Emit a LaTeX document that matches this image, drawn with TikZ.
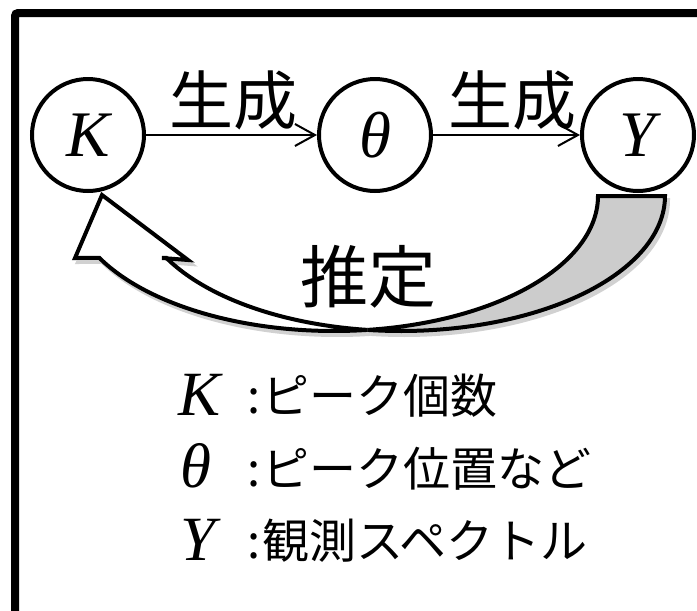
\documentclass[tikz,border=0pt]{standalone}
\usepackage{fontspec}
\setmainfont{Liberation Serif}
\newfontfamily\jp{Noto Sans CJK JP}
\usetikzlibrary{arrows.meta}
\tikzset{
  var/.style={circle,draw,line width=4pt,minimum size=112pt,inner sep=0pt,
    font=\fontsize{65}{65}\selectfont\itshape},
  gen/.style={draw,line width=2pt,-{Straight Barb[length=20pt,width=22pt,line width=2pt]}},
  genlabel/.style={font=\jp\fontsize{64}{64}\selectfont,inner sep=0pt},
  estlabel/.style={font=\jp\fontsize{68}{68}\selectfont,inner sep=0pt},
  legsym/.style={font=\fontsize{63}{63}\selectfont\itshape,inner sep=0pt,anchor=base west},
  legtxt/.style={font=\jp\fontsize{47}{47}\selectfont,inner sep=0pt,anchor=base west},
  shapeline/.style={draw=black,line width=4pt,line join=miter},
  shadowline/.style={draw=black!18,fill=black!18,line width=4pt},
  graypath/.style={insert path={(598,196) -- (665,196)
     -- plot[domain=0:97.3,samples=80] ({401+264*cos(\x)},{196+135*sin(\x)})
     -- plot[domain=82.7:0,samples=80] ({334+264*cos(\x)},{196+135*sin(\x)}) -- cycle}},
  whitepath/.style={insert path={plot[domain=82.7:152.7,samples=80] ({334+264*cos(\x)},{196+135*sin(\x)})
     -- (75,258) -- (102,195) -- (188,260) -- (162,258)
     -- plot[domain=152.7:97.3,samples=80] ({401+264*cos(\x)},{196+135*sin(\x)}) -- cycle}}
}
\begin{document}
\begin{tikzpicture}[x=1pt,y=-1pt]
\useasboundingbox (0,0) rectangle (697,611);
\clip (0,0) rectangle (697,611);
\fill[white] (0,0) rectangle (697,611);
\draw[line width=8pt,rounded corners=3pt] (15,13) rectangle (712,618);

% nodes
\node[var] (K) at (88,135) {K};
\node[var] (T) at (375,135) {θ};
\node[var] (Y) at (638,135) {Y};

\draw[gen] (K) -- (T);
\draw[gen] (T) -- (Y);
\node[genlabel] (g1) at (233,100) {生成};
\node[genlabel] (g2) at (512,100) {生成};

% curved estimation arrow: shadow
\begin{scope}[shift={(3,4)}]
  \path[shadowline,graypath];
  \path[shadowline,whitepath];
\end{scope}
\path[shapeline,fill=black!20,graypath];
\path[shapeline,fill=white,whitepath];
\node[estlabel] (est) at (368,277) {推定};

% legend
\node[legsym] (lk) at (178,415) {K};
\node[legsym] (lt) at (180,487) {θ};
\node[legsym] (ly) at (180,560) {Y};
\node[legtxt] (c1) at (247,413) {:};
\node[legtxt] (c2) at (247,486) {:};
\node[legtxt] (c3) at (247,558) {:};
\node[legtxt] (t1) at (262,413) {ピーク個数};
\node[legtxt] (t2) at (262,486) {ピーク位置など};
\node[legtxt] (t3) at (262,558) {観測スペクトル};
\end{tikzpicture}
\end{document}
